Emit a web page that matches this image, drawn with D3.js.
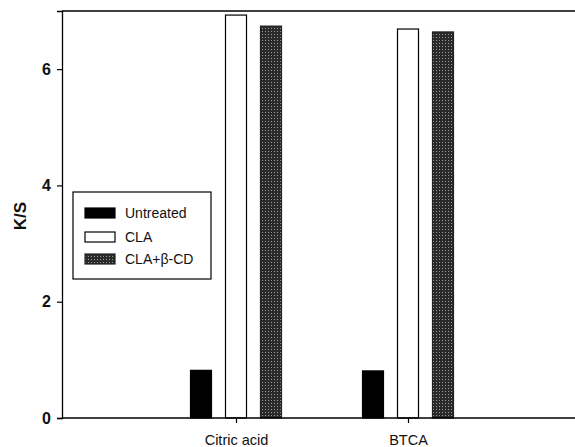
<!DOCTYPE html>
<html>
<head>
<meta charset="utf-8">
<script src="https://cdn.jsdelivr.net/npm/d3@7"></script>
<style>
  html, body { margin: 0; padding: 0; background: #fff; }
  svg { display: block; font-family: "Liberation Sans", Arial, sans-serif; }
</style>
</head>
<body>
<svg id="chart" width="575" height="447"></svg>
<script>
// Treatments (x categories) and their positions on the x axis
const categories = ["Citric acid", "BTCA"];
const categoryPos = [1, 2];
const series = ["Untreated", "CLA", "CLA+\u03b2-CD"];
// K/S values per series, in category order
const untreated = [0.82, 0.81];
const cla = [6.93, 6.69];
const claCd = [6.74, 6.64];
const yTicks = [0, 2, 4, 6];

const values = [untreated, cla, claCd];

const svg = d3.select("#chart");
const axisX = 62;

const x = d3.scaleLinear().domain([0, 3]).range([64, 580]);
const y = d3.scaleLinear().domain([0, 7]).range([418, 11]);

// dotted fill for the CLA+β-CD bars
const defs = svg.append("defs");
const pat = defs.append("pattern")
  .attr("id", "dots").attr("patternUnits", "userSpaceOnUse")
  .attr("width", 3).attr("height", 3);
pat.append("rect").attr("width", 3).attr("height", 3).attr("fill", "#2a2a2a");
pat.append("rect").attr("x", 1).attr("y", 1).attr("width", 1).attr("height", 1).attr("fill", "#9a9a9a");

const fills = ["#000", "#fff", "url(#dots)"];
const strokes = ["#000", "#000", "#222"];

// bar geometry in x-axis units
const unit = x(1) - x(0);
const step = 35 / unit;
const barW = 21 / unit;

const g = svg.append("g");

series.forEach((s, si) => {
  g.selectAll(null)
    .data(values[si].map((v, ci) => ({ v, pos: categoryPos[ci] })))
    .join("rect")
    .attr("x", d => x(d.pos + (si - 1) * step - barW / 2))
    .attr("width", d => x(d.pos + barW / 2) - x(d.pos - barW / 2))
    .attr("y", d => y(d.v))
    .attr("height", d => y(0) - y(d.v))
    .attr("fill", fills[si])
    .attr("stroke", strokes[si])
    .attr("stroke-width", 1.2);
});

// frame: top edge
svg.append("line")
  .attr("x1", axisX).attr("x2", 575)
  .attr("y1", y(7)).attr("y2", y(7))
  .attr("stroke", "#000").attr("stroke-width", 1.3);

// y axis
const yAxis = d3.axisLeft(y).tickValues(yTicks).tickSize(5).tickPadding(6).tickFormat(d3.format("d"));
const ya = svg.append("g").attr("transform", `translate(${axisX},0)`).call(yAxis);
ya.select(".domain").attr("stroke-width", 1.3);
ya.selectAll(".tick line").attr("stroke-width", 1.2);
ya.selectAll("text").attr("font-size", 16).attr("font-weight", "bold").attr("fill", "#111");

// x axis line from the y axis to the right edge
svg.append("line")
  .attr("x1", axisX).attr("x2", 575)
  .attr("y1", y(0)).attr("y2", y(0))
  .attr("stroke", "#000").attr("stroke-width", 1.3);
const xAxis = d3.axisBottom(x).tickValues(categoryPos).tickSize(5).tickPadding(12)
  .tickFormat((d, i) => categories[i]).tickSizeOuter(0);
const xa = svg.append("g").attr("transform", `translate(0,${y(0)})`).call(xAxis);
xa.select(".domain").remove();
xa.selectAll(".tick line").attr("stroke-width", 1.2);
xa.selectAll("text").attr("font-size", 14.5).attr("fill", "#111");

// y axis title
svg.append("text")
  .attr("transform", "translate(26,216) rotate(-90)")
  .attr("text-anchor", "middle")
  .attr("font-size", 17).attr("font-weight", "bold").attr("fill", "#111")
  .text("K/S");

// legend
const lg = svg.append("g");
lg.append("rect")
  .attr("x", 73).attr("y", 192).attr("width", 138).attr("height", 87)
  .attr("fill", "#fff").attr("stroke", "#000").attr("stroke-width", 1.2);
const rowY = [213, 237, 259];
series.forEach((s, i) => {
  lg.append("rect")
    .attr("x", 85).attr("y", rowY[i] - 5).attr("width", 30).attr("height", 10)
    .attr("fill", fills[i]).attr("stroke", strokes[i]).attr("stroke-width", 1.2);
  lg.append("text")
    .attr("x", 125).attr("y", rowY[i]).attr("dy", "0.35em")
    .attr("font-size", 14).attr("fill", "#111")
    .text(s);
});
</script>
</body>
</html>
